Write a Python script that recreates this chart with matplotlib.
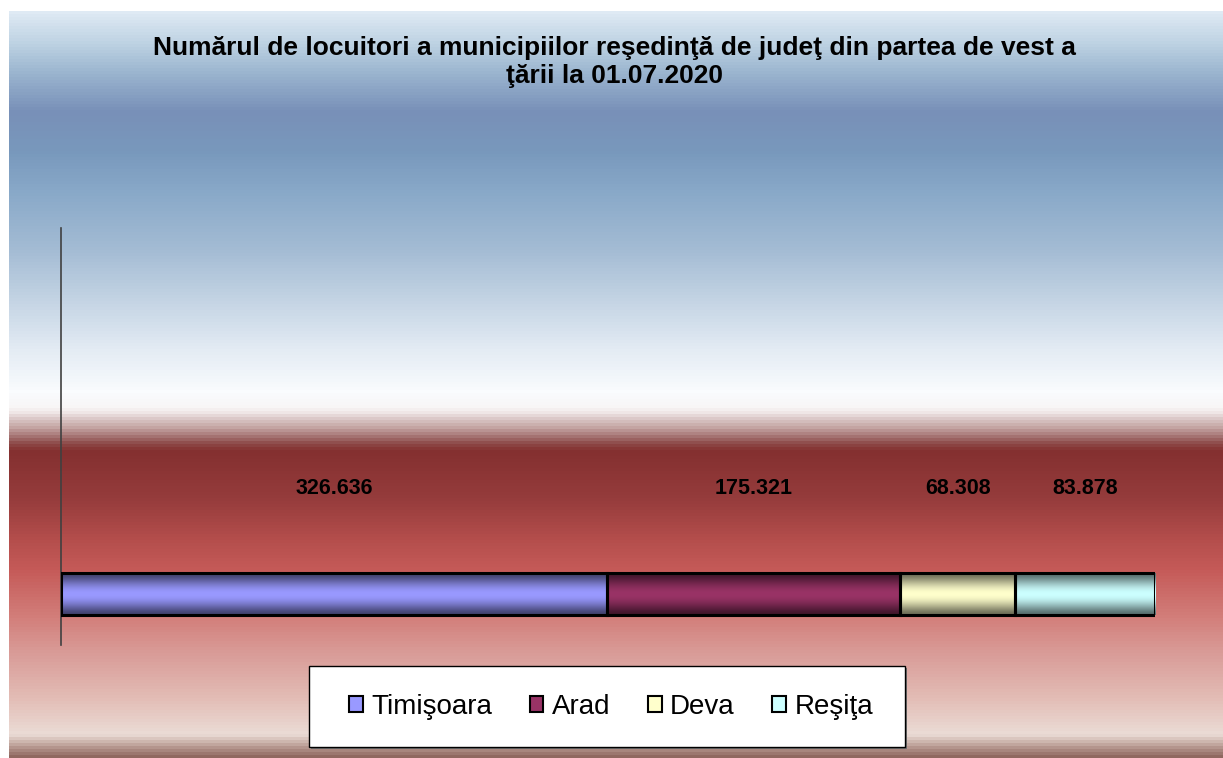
import numpy as np
import matplotlib
matplotlib.use("Agg")
import matplotlib.pyplot as plt
from matplotlib.colors import to_rgb
from matplotlib.patches import Rectangle

plt.rcParams['font.family'] = ['Liberation Sans', 'DejaVu Sans']

# data
cities = ["Timişoara", "Arad", "Deva", "Reşiţa"]
population = [326636, 175321, 68308, 83878]
labels = ["326.636", "175.321", "68.308", "83.878"]
colors = ["#9999ff", "#993366", "#ffffcc", "#ccffff"]
title = "Numărul de locuitori a municipiilor reşedinţă de judeţ din partea de vest a\nţării la 01.07.2020"

W, H = 1223, 758
fig = plt.figure(figsize=(W/100, H/100), dpi=100)
fig.patch.set_facecolor("white")

# background gradient (pixel row -> colour), banded like the original
stops_y = [11, 40, 70, 110, 150, 190, 250, 300, 350, 392, 408, 413, 420, 428, 436, 444, 451,
           500, 540, 570, 620, 650, 700, 736, 742, 750, 758]
stops_c = ["#dfeaf4", "#c0d4e4", "#9cb6d0", "#7890b8", "#7898bc", "#88a8c8", "#a4bcd4",
           "#c4d4e4", "#e4ecf4", "#fafcfe", "#f8f6f6", "#efe6e6", "#d8c4c4", "#c4a4a2",
           "#a87878", "#8d4a48", "#843030", "#963c3c", "#b44e4c", "#c55a58", "#d3807c",
           "#d89894", "#e3bdb6", "#ebdcd6", "#d2bcb4", "#b09088", "#906860"]
rows = np.arange(11, 759, 3)
rgb = np.array([to_rgb(c) for c in stops_c])
grad = np.stack([np.interp(rows, stops_y, rgb[:, k]) for k in range(3)], axis=1)
bg = fig.add_axes([9/W, 0, (W-9)/W, (H-11)/H])
bg.imshow(grad[:, None, :], aspect="auto", interpolation="nearest", extent=[0, 1, 0, 1])
bg.set_axis_off()

fig.text(614/W, 1-62/H, title, ha="center", va="center", fontsize=19,
         fontweight="bold", linespacing=1.22)

# main axes
ax = fig.add_axes([61/W, 1-645/H, 1094/W, 417/H])
ax.patch.set_alpha(0)
total = sum(population)
for s in ["top", "right", "bottom"]:
    ax.spines[s].set_visible(False)
ax.spines["left"].set_color("#404040")
ax.spines["left"].set_linewidth(1.2)
ax.set_xticks([])
ax.set_yticks([])

bar_y, bar_h = 0.122, 0.1
t = np.linspace(0, 1, 80)
shade = 0.42 + 0.58 * np.sin(np.pi * t) ** 1.5
left = 0
for name, val, col, lab in zip(cities, population, colors, labels):
    c = np.array(to_rgb(col))
    img = np.clip(shade[:, None, None] * c[None, None, :], 0, 1)
    rect = Rectangle((left, bar_y - bar_h/2), val, bar_h, facecolor="none",
                     edgecolor="black", linewidth=2.2, zorder=3)
    ax.add_patch(rect)
    im = ax.imshow(img, aspect="auto", extent=[left, left + val, bar_y - bar_h/2, bar_y + bar_h/2],
                   interpolation="bilinear", zorder=2)
    im.set_clip_path(rect)
    ax.text(left + val/2, 0.376, lab, ha="center", va="center", fontsize=15.5,
            fontweight="bold", color="black")
    left += val
ax.set_xlim(0, total)
ax.set_ylim(0, 1)

# legend box
fig.patches.append(Rectangle((311/W, 1-749/H), 596/W, 81/H, transform=fig.transFigure,
                             facecolor="#707070", edgecolor="none", zorder=1))
fig.patches.append(Rectangle((309/W, 1-747/H), 596/W, 81/H, transform=fig.transFigure,
                             facecolor="white", edgecolor="black", linewidth=1, zorder=2))
handles = [Rectangle((0, 0), 1, 1, facecolor=c, edgecolor="black", linewidth=1.5) for c in colors]
fig.legend(handles, cities, loc="center", bbox_to_anchor=(611/W, 1-707/H), ncol=4,
           frameon=False, fontsize=20, handlelength=0.5, handleheight=0.5,
           handletextpad=0.3, columnspacing=1.35)

fig.savefig("out.png", dpi=100)
